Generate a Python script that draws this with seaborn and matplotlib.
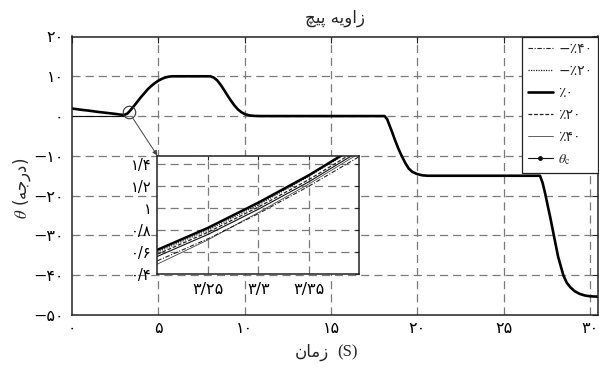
import numpy as np
import pandas as pd
import matplotlib
matplotlib.use("Agg")
import matplotlib.pyplot as plt
from matplotlib.lines import Line2D
import seaborn as sns

# ---------------- data ----------------
main_t = [0.0, 0.5, 1.0, 1.5, 2.0, 2.5, 3.0, 3.2, 3.3, 3.4, 3.6, 3.8, 4.0, 4.2, 4.4,
          4.6, 4.8, 5.0, 5.2, 5.4, 5.6, 5.8, 8.0, 8.2, 8.4, 8.6, 8.8, 9.0, 9.2,
          9.4, 9.6, 9.8, 10.0, 10.3, 10.6, 11.0, 18.1, 18.25, 18.4, 18.55, 18.7,
          18.9, 19.1, 19.3, 19.5, 19.7, 20.0, 20.3, 20.6, 27.1, 27.25, 27.4,
          27.55, 27.7, 27.9, 28.15, 28.45, 28.65, 28.85, 29.1, 29.4, 29.7, 30.0, 30.5]
main_v = [1.9, 1.6, 1.35, 1.05, 0.8, 0.55, 0.25, 0.62, 1.05, 1.55, 2.6, 3.7, 4.8, 5.8, 6.8,
          7.6, 8.3, 8.9, 9.35, 9.7, 9.9, 10.0, 10.0, 9.7, 9.0, 7.9, 6.6, 5.2, 3.9,
          2.7, 1.7, 1.0, 0.5, 0.15, 0.03, 0.0, 0.0, -0.8, -2.5, -4.2, -6.0,
          -8.2, -10.1, -11.8, -13.2, -14.0, -14.6, -14.9, -15.0, -15.0, -16.8, -19.5,
          -22.6, -25.6, -30.0, -35.4, -40.0, -41.9, -43.0, -44.0, -44.7, -45.1, -45.3, -45.4]
# command before the manoeuvre (thin line at zero)
cmd_pre_t = [0.0, 1.0, 2.0, 3.0]
cmd_pre_v = [0.0, 0.0, 0.0, 0.0]

inset_t = [3.2, 3.25, 3.3, 3.35, 3.4]
inset_m40 = [0.52, 0.72, 0.95, 1.20, 1.47]
inset_m20 = [0.60, 0.80, 1.03, 1.29, 1.57]
inset_p0 = [0.62, 0.82, 1.05, 1.30, 1.58]
inset_p20 = [0.58, 0.78, 1.01, 1.26, 1.54]
inset_p40 = [0.49, 0.71, 0.96, 1.22, 1.50]
inset_cmd = [0.56, 0.76, 0.99, 1.24, 1.52]

labels = ["\u2212\u066A\u06F4\u06F0", "\u2212\u066A\u06F2\u06F0", "\u066A\u06F0",
          "\u066A\u06F2\u06F0", "\u066A\u06F4\u06F0", r"$\theta_{\rm c}$"]

x_ticks = [0, 5, 10, 15, 20, 25, 30]
y_ticks = [20, 10, 0, -10, -20, -30, -40, -50]
inset_xticks = [3.25, 3.3, 3.35]
inset_yticks = [0.4, 0.6, 0.8, 1.0, 1.2, 1.4]
inset_xlim = (3.2, 3.4)
inset_ylim = (0.4, 1.48)

title_txt = "\uFB7B\uFBFF\uFB58 \uFEEA\uFBFE\uFEED\uFE8D\uFEAF"        # زاویه پیچ
xlabel_fa = "\uFEE5\uFE8E\uFEE3\uFEAF"                                  # زمان
ylabel_fa = "\uFEEA\uFE9F\uFEAD\uFEA9"                                  # درجه

# ---------------- style ----------------
sns.set_theme(style="white")
plt.rcParams['font.family'] = ['DejaVu Sans']
plt.rcParams['mathtext.fontset'] = 'stix'

PD = str.maketrans("0123456789-.", "۰۱۲۳۴۵۶۷۸۹\u2212/")
def fa(v):
    return f"{v:g}".translate(PD)

W, H = 599, 381
fig = plt.figure(figsize=(W / 100, H / 100), dpi=100)
L, R, T, B = 72, 598, 36.5, 315
ax = fig.add_axes([L / W, 1 - B / H, (R - L) / W, (B - T) / H])

grid_kw = dict(color="#7a7a7a", lw=0.9, linestyle=(0, (6.5, 4)))
spine_c = "#222222"

styles = [
    dict(color="#222222", lw=0.8, linestyle=(0, (4, 1.5, 1, 1.5))),   # -40
    dict(color="#222222", lw=0.9, linestyle=(0, (1, 1))),             # -20
    dict(color="#000000", lw=1.9, linestyle="-"),                     # 0
    dict(color="#222222", lw=0.9, linestyle=(0, (3, 1.5))),           # +20
    dict(color="#444444", lw=0.6, linestyle="-"),                     # +40
    dict(color="#111111", lw=0.8, linestyle="-"),                     # cmd
]

df_main = pd.DataFrame({"t": main_t, "v": main_v})
df_pre = pd.DataFrame({"t": cmd_pre_t, "v": cmd_pre_v})
sns.lineplot(data=df_pre, x="t", y="v", ax=ax, estimator=None, sort=False, **styles[5])
sns.lineplot(data=df_main, x="t", y="v", ax=ax, estimator=None, sort=False, **styles[2])

ax.set_xlim(0, (R - L) / 17.27)
ax.set_ylim(-50, 20)
ax.set_xticks(x_ticks)
ax.set_yticks(y_ticks)
ax.set_xticklabels([fa(v) for v in x_ticks], fontsize=11.5)
ax.set_yticklabels([fa(v) for v in y_ticks], fontsize=11.5)
for v in x_ticks[1:]:
    ax.axvline(v, zorder=0, **grid_kw)
for v in y_ticks[1:-1]:
    ax.axhline(v, zorder=0, **grid_kw)
ax.tick_params(direction="in", length=4, width=0.8, colors=spine_c, top=True, right=True,
               pad=6, labelcolor="black")
ax.tick_params(axis="x", pad=4)
for s in ax.spines.values():
    s.set_color(spine_c)
    s.set_linewidth(1.1)
ax.set_xlabel("")
ax.set_ylabel("")

# titles / labels
fig.text((L + R) / 2 / W, 1 - 18 / H, title_txt, ha="center", va="center", fontsize=12)
fig.text(312 / W, 1 - 352 / H, xlabel_fa, ha="center", va="center", fontsize=12)
fig.text(347 / W, 1 - 352 / H, "(S)", ha="center", va="center", fontsize=12,
         family="Liberation Serif")
fig.text(22 / W, 1 - 188 / H, r"$\theta$ (" + ylabel_fa + ")", ha="center", va="center",
         rotation=90, fontsize=12)

# legend
handles = [Line2D([], [], **st) for st in styles]
handles[5] = Line2D([], [], marker="o", ms=2.5, **styles[5])
leg = ax.legend(handles, labels, loc="upper right", bbox_to_anchor=(1.0, 1.0),
                frameon=True, fancybox=False, framealpha=1, edgecolor="#222222",
                fontsize=10, handlelength=1.8, labelspacing=0.58, borderpad=0.4,
                handletextpad=0.4, borderaxespad=0.0)
leg.get_frame().set_linewidth(0.9)

# ---------------- inset ----------------
IL, IR, IT, IB = 157.3, 359.3, 155.5, 274
axins = fig.add_axes([IL / W, 1 - IB / H, (IR - IL) / W, (IB - IT) / H])
axins.set_facecolor("white")
inset_series = [inset_m40, inset_m20, inset_p0, inset_p20, inset_p40, inset_cmd]
order = [4, 0, 3, 5, 1, 2]
for i in order:
    d = pd.DataFrame({"t": inset_t, "v": inset_series[i]})
    kw = dict(styles[i])
    if i == 2:
        kw["lw"] = 1.8
    sns.lineplot(data=d, x="t", y="v", ax=axins, estimator=None, sort=False, **kw)
axins.set_xlim(*inset_xlim)
axins.set_ylim(*inset_ylim)
axins.set_xticks(inset_xticks)
axins.set_yticks(inset_yticks)
axins.set_xticklabels([fa(v) for v in inset_xticks], fontsize=11.5)
axins.set_yticklabels([fa(v) for v in inset_yticks], fontsize=10.5)
for v in inset_xticks:
    axins.axvline(v, zorder=0, **grid_kw)
for v in inset_yticks[1:]:
    axins.axhline(v, zorder=0, **grid_kw)
axins.tick_params(direction="in", length=3, width=0.8, colors=spine_c, top=True, right=True,
                  labelcolor="black", pad=4)
axins.tick_params(axis="x", pad=6)
for s in axins.spines.values():
    s.set_color(spine_c)
    s.set_linewidth(1.1)
axins.set_xlabel("")
axins.set_ylabel("")

# circle marking the zoomed region and connecting arrow
cx, cy = sum(inset_xlim) / 2, sum(inset_ylim) / 2
ax.plot([cx], [cy], marker="o", ms=9, mfc="none", mec="#333333", mew=0.8, zorder=5)
ax.annotate("", xy=(0, 1), xycoords=axins.transAxes, xytext=(cx, cy), textcoords="data",
            arrowprops=dict(arrowstyle="-|>", lw=0.7, color="#444444", shrinkA=5, shrinkB=0,
                            mutation_scale=7), zorder=6)

fig.savefig("out.png", dpi=100)
